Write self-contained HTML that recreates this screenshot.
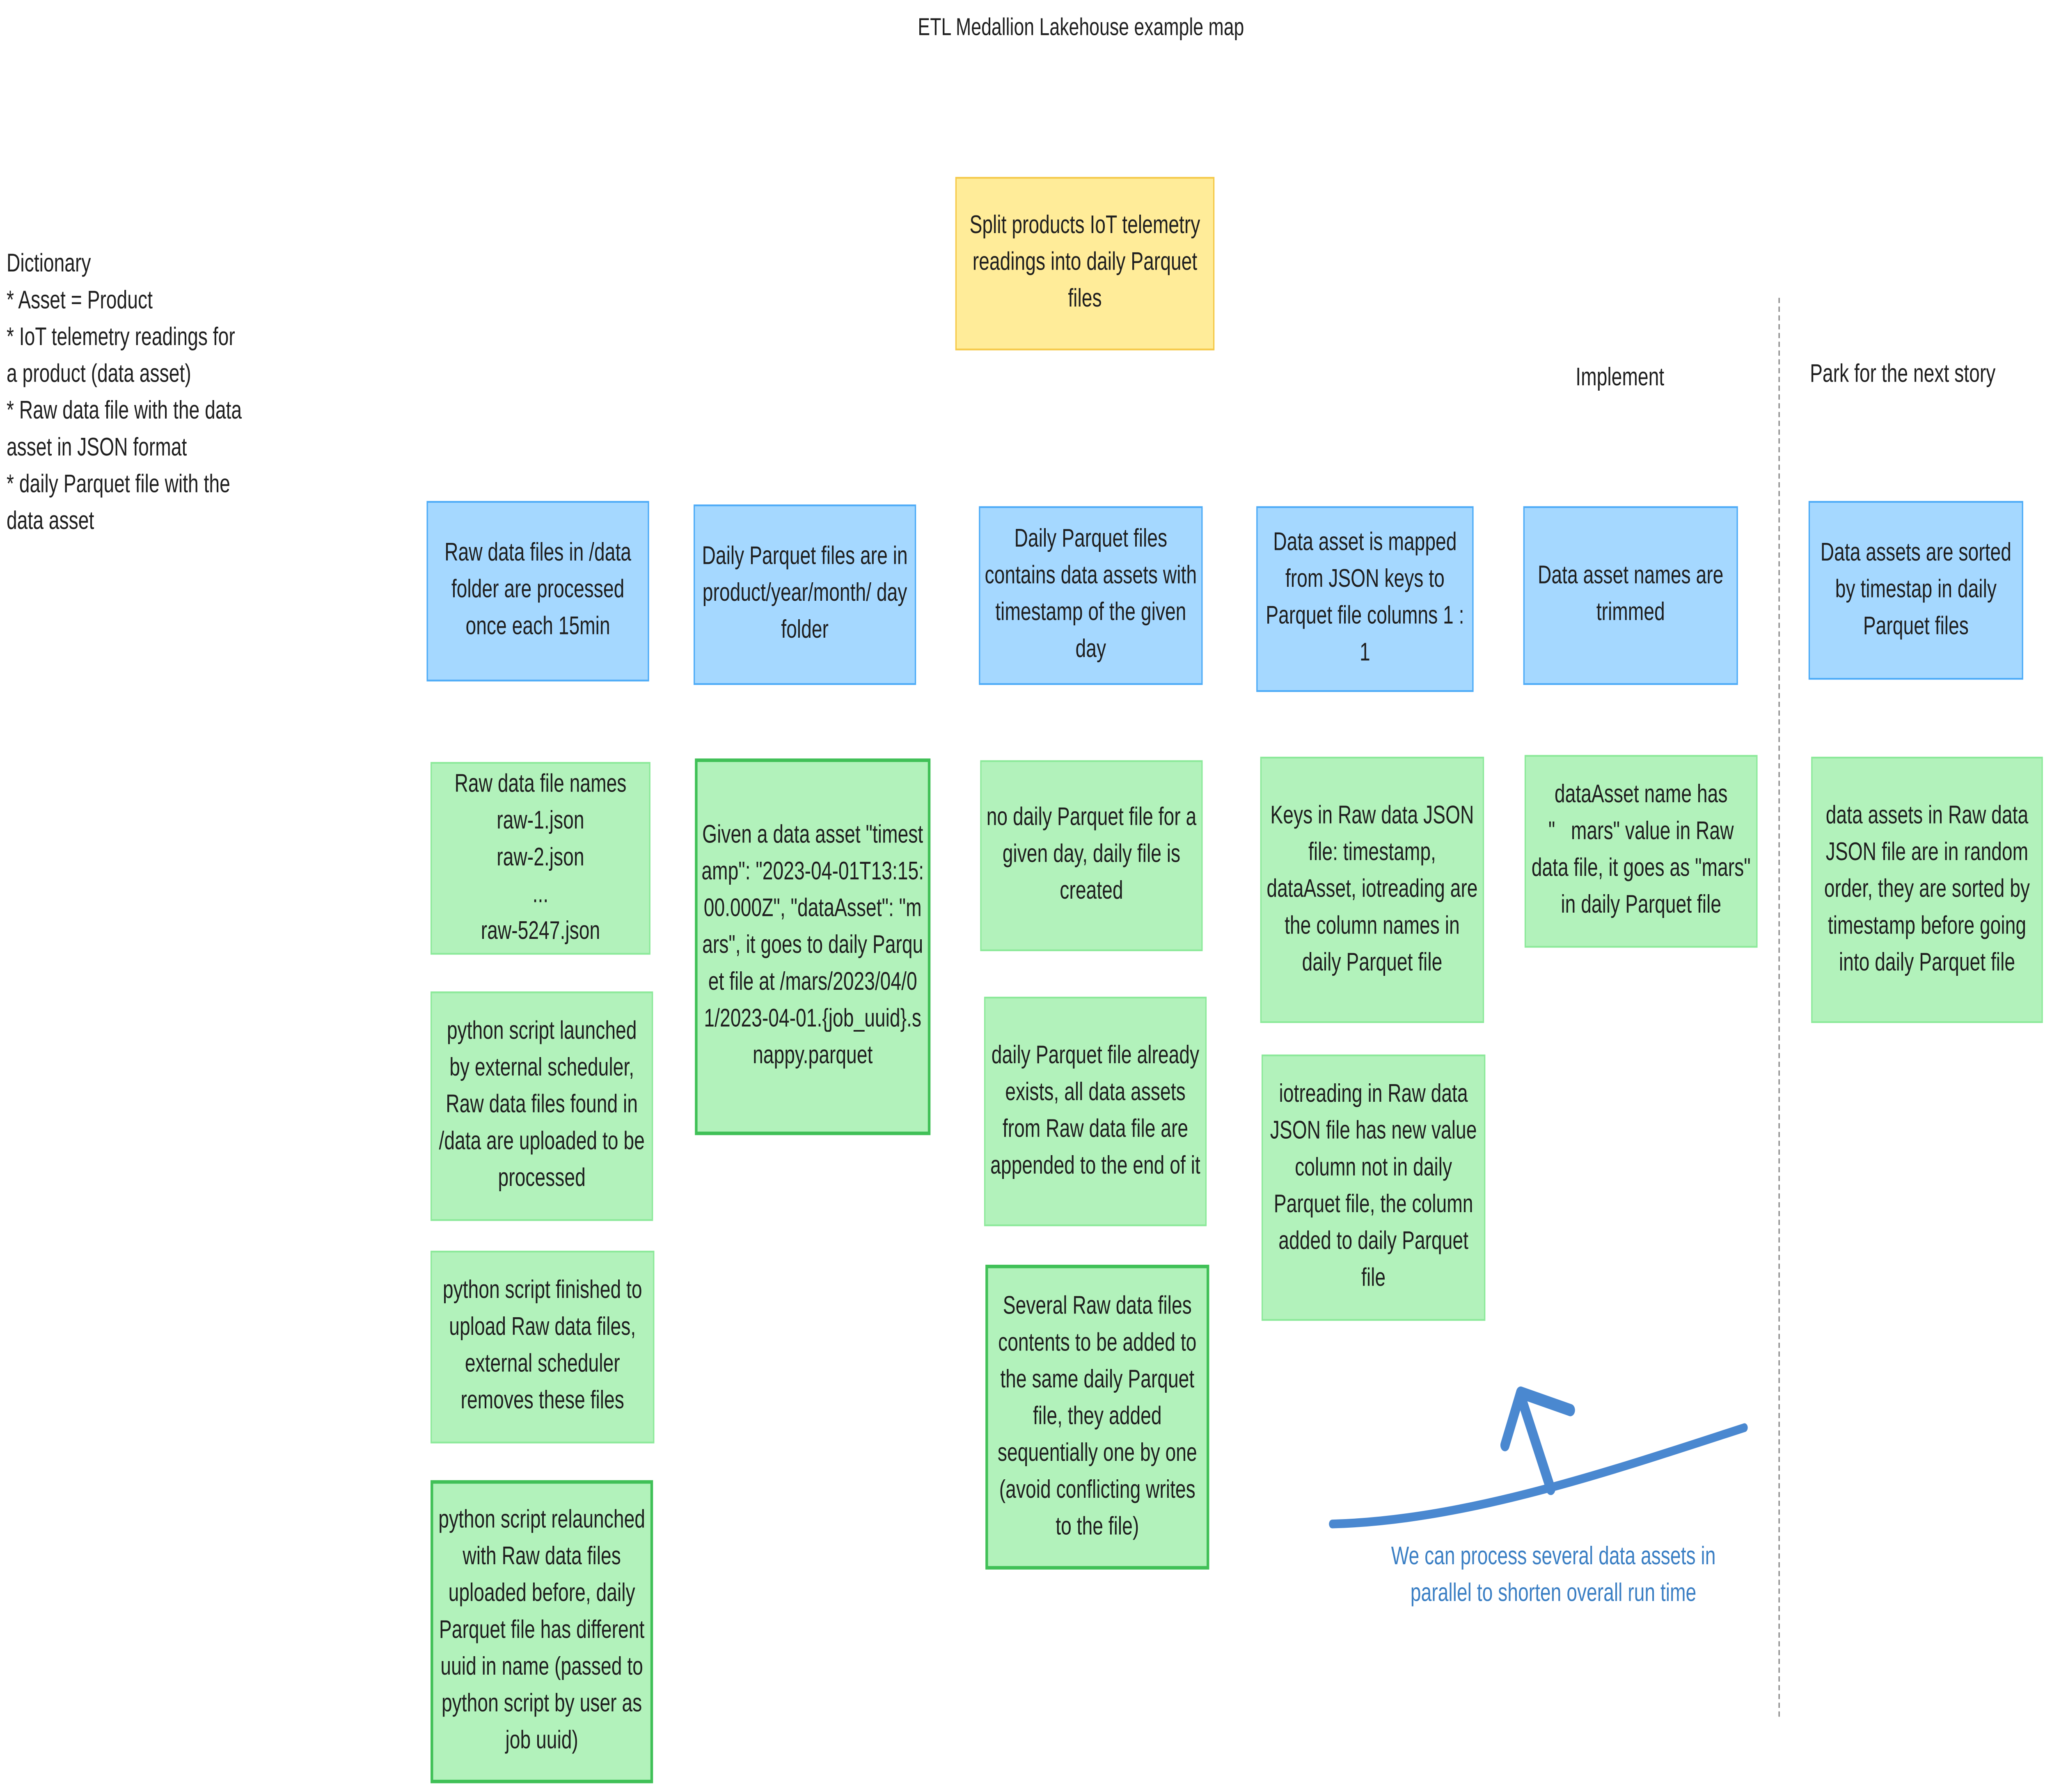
<!DOCTYPE html>
<html><head><meta charset="utf-8"><style>
html,body{margin:0;padding:0;background:#fff;width:100%;height:100%;overflow:hidden;}
svg.root{position:fixed;left:0;top:0;width:100vw;height:100vh;display:block;}
#c{position:relative;width:1568px;height:1023px;font-family:"Liberation Sans",sans-serif;color:#1e1e1e;}
.b{position:absolute;box-sizing:border-box;display:flex;align-items:center;justify-content:center;text-align:center;font-size:14.5px;line-height:21px;padding:0 3px;}
.bl{background:#a5d8ff;border:1px solid #4dabf7;}
.gr{background:#b2f2bb;border:1px solid #8ce99a;}
.gt{background:#b2f2bb;border:2px solid #40c057;}
.t{position:absolute;font-size:14.5px;line-height:21px;white-space:nowrap;}
</style></head><body>
<svg class="root" viewBox="0 0 1568 1023" preserveAspectRatio="none" xmlns="http://www.w3.org/2000/svg">
<rect width="1568" height="1023" fill="#fff"/>
<foreignObject x="0" y="0" width="1568" height="1023">
<div xmlns="http://www.w3.org/1999/xhtml" id="c">
<div class="t" style="left:0;width:1652px;text-align:center;top:5px;font-size:14px;">ETL Medallion Lakehouse example map</div>
<div class="b" style="left:730px;top:101px;width:198px;height:99px;background:#ffec99;border:1px solid #f5c94a;">Split products IoT telemetry readings into daily Parquet files</div>
<div class="t" style="left:5px;top:141px;">Dictionary<br/>* Asset = Product<br/>* IoT telemetry readings for<br/>a product (data asset)<br/>* Raw data file with the data<br/>asset in JSON format<br/>* daily Parquet file with the<br/>data asset</div>
<div class="t" style="left:1204px;top:206px;">Implement</div>
<div class="t" style="left:1383px;top:204px;">Park for the next story</div>
<div style="position:absolute;left:1359px;top:170px;height:810px;border-left:1px dashed #888;"></div>

<div class="b bl" style="left:326px;top:286px;width:170px;height:103px;">Raw data files in /data folder are processed once each 15min</div>
<div class="b bl" style="left:530px;top:288px;width:170px;height:103px;">Daily Parquet files are in product/year/month/ day folder</div>
<div class="b bl" style="left:748px;top:289px;width:171px;height:102px;">Daily Parquet files contains data assets with timestamp of the given day</div>
<div class="b bl" style="left:960px;top:289px;width:166px;height:106px;">Data asset is mapped from JSON keys to Parquet file columns 1 : 1</div>
<div class="b bl" style="left:1164px;top:289px;width:164px;height:102px;">Data asset names are trimmed</div>
<div class="b bl" style="left:1382px;top:286px;width:164px;height:102px;">Data assets are sorted by timestap in daily Parquet files</div>

<div class="b gr" style="left:329px;top:435px;width:168px;height:110px;">Raw data file names<br/>raw-1.json<br/>raw-2.json<br/>...<br/>raw-5247.json</div>
<div class="b gr" style="left:329px;top:566px;width:170px;height:131px;">python script launched by external scheduler, Raw data files found in /data are uploaded to be processed</div>
<div class="b gr" style="left:329px;top:714px;width:171px;height:110px;">python script finished to upload Raw data files, external scheduler removes these files</div>
<div class="b gt" style="left:329px;top:845px;width:170px;height:173px;">python script relaunched with Raw data files uploaded before, daily Parquet file has different uuid in name (passed to python script by user as job uuid)</div>
<div class="b gt" style="left:531px;top:433px;width:180px;height:215px;word-break:break-all;">Given a data asset "timestamp": "2023-04-01T13:15:00.000Z", "dataAsset": "mars", it goes to daily Parquet file at /mars/2023/04/01/2023-04-01.{job_uuid}.snappy.parquet</div>
<div class="b gr" style="left:749px;top:434px;width:170px;height:109px;">no daily Parquet file for a given day, daily file is created</div>
<div class="b gr" style="left:752px;top:569px;width:170px;height:131px;">daily Parquet file already exists, all data assets from Raw data file are appended to the end of it</div>
<div class="b gt" style="left:753px;top:722px;width:171px;height:174px;">Several Raw data files contents to be added to the same daily Parquet file, they added sequentially one by one (avoid conflicting writes to the file)</div>
<div class="b gr" style="left:963px;top:432px;width:171px;height:152px;">Keys in Raw data JSON file: timestamp, dataAsset, iotreading are the column names in daily Parquet file</div>
<div class="b gr" style="left:964px;top:602px;width:171px;height:152px;">iotreading in Raw data JSON file has new value column not in daily Parquet file, the column added to daily Parquet file</div>
<div class="b gr" style="left:1165px;top:431px;width:178px;height:110px;">dataAsset name has "&#160;&#160;&#160;mars" value in Raw data file, it goes as "mars" in daily Parquet file</div>
<div class="b gr" style="left:1384px;top:432px;width:177px;height:152px;">data assets in Raw data JSON file are in random order, they are sorted by timestamp before going into daily Parquet file</div>
<div class="t" style="left:1060px;width:254px;text-align:center;top:879px;white-space:normal;color:#3b7fc4;">We can process several data assets in parallel to shorten overall run time</div>
</div>
</foreignObject>
<path d="M1018 870 C1120 868 1230 840 1333 815" fill="none" stroke="#4a88d0" stroke-width="5" stroke-linecap="round"/>
<path d="M1185 850 L1162 797 M1150 825 L1162 795 L1200 805" fill="none" stroke="#4a88d0" stroke-width="7" stroke-linecap="round" stroke-linejoin="round"/>
</svg>
</body></html>
